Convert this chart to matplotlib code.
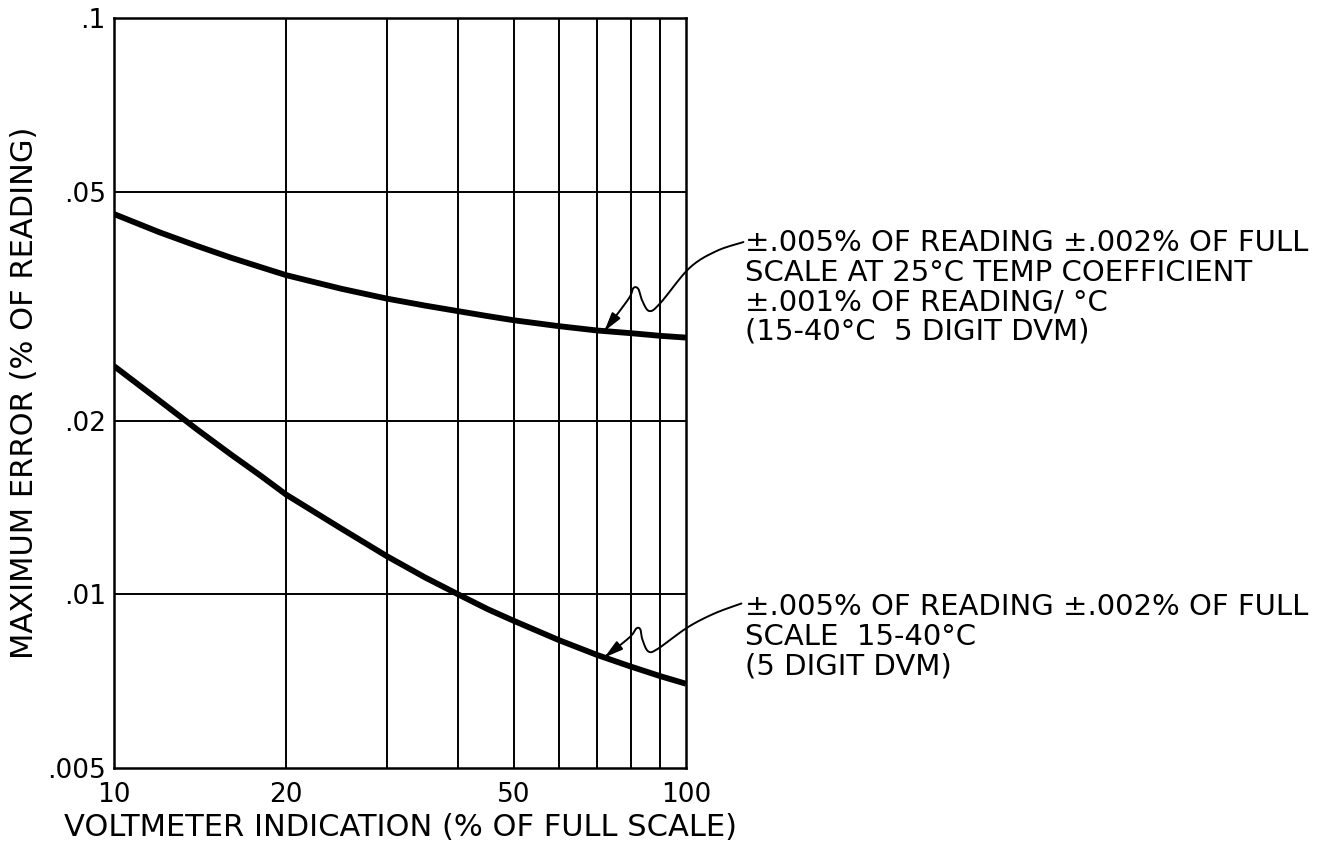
import numpy as np
import matplotlib
matplotlib.use("Agg")
import matplotlib.pyplot as plt
from matplotlib.path import Path
from matplotlib.patches import FancyArrowPatch
from matplotlib.transforms import IdentityTransform

# Values (log-log axes)
indication = [10, 12, 14, 16, 18, 20, 25, 30, 35, 40, 45, 50, 60, 70, 80, 90, 100]   # % of full scale
err_temp = [0.0457, 0.0425, 0.0402, 0.0384, 0.0370, 0.0358, 0.0339, 0.0326, 0.0317, 0.0310,
            0.0304, 0.0299, 0.0292, 0.0287, 0.0284, 0.0281, 0.0279]
err_basic = [0.0249, 0.0217, 0.0193, 0.0175, 0.0161, 0.0149, 0.0130, 0.01165, 0.0107, 0.0100,
             0.00943, 0.0090, 0.00833, 0.00785, 0.0075, 0.00722, 0.0070]

x_ticks = [10, 20, 50, 100]
x_ticklabels = ["10", "20", "50", "100"]
x_grid = [20, 30, 40, 50, 60, 70, 80, 90]
y_ticks = [0.005, 0.01, 0.02, 0.05, 0.1]
y_ticklabels = [".005", ".01", ".02", ".05", ".1"]

note_temp = ("\u00b1.005% OF READING \u00b1.002% OF FULL\n"
             "SCALE AT 25\u00b0C TEMP COEFFICIENT\n"
             "\u00b1.001% OF READING/ \u00b0C\n"
             "(15-40\u00b0C  5 DIGIT DVM)")
note_basic = ("\u00b1.005% OF READING \u00b1.002% OF FULL\n"
              "SCALE  15-40\u00b0C\n"
              "(5 DIGIT DVM)")
arrow_x = 72  # where the leader arrows touch the curves

plt.rcParams['font.family'] = ['DejaVu Sans']
FS_TICK = 19
FS_LABEL = 22
FS_NOTE = 21

fig = plt.figure(figsize=(13.32, 8.43), dpi=100)
ax = fig.add_axes([114 / 1332, 75 / 843, 572 / 1332, 750 / 843])

ax.plot(indication, err_temp, color='black', lw=4.2, solid_capstyle='butt',
        solid_joinstyle='round')
ax.plot(indication, err_basic, color='black', lw=4.2, solid_capstyle='butt',
        solid_joinstyle='round')

ax.set_xscale('log')
ax.set_yscale('log')
ax.set_xlim(10, 100)
ax.set_ylim(0.005, 0.1)

ax.xaxis.set_minor_locator(matplotlib.ticker.NullLocator())
ax.yaxis.set_minor_locator(matplotlib.ticker.NullLocator())
ax.set_xticks(x_ticks)
ax.set_xticklabels(x_ticklabels, fontsize=FS_TICK)
ax.set_yticks(y_ticks)
ax.set_yticklabels(y_ticklabels, fontsize=FS_TICK)
ax.tick_params(axis='y', length=0, pad=6)
ax.tick_params(axis='x', length=0, pad=10)

for gx in x_grid:
    ax.axvline(gx, color='black', lw=1.4, zorder=1)
for gy in y_ticks[1:-1]:
    ax.axhline(gy, color='black', lw=1.4, zorder=1)
for s in ax.spines.values():
    s.set_linewidth(1.8)

ax.set_xlabel("VOLTMETER INDICATION (% OF FULL SCALE)", fontsize=FS_LABEL, labelpad=4)
ax.set_ylabel("MAXIMUM ERROR (% OF READING)", fontsize=FS_LABEL, labelpad=6)


def catmull(pts, n=20):
    pts = np.asarray(pts, float)
    p = np.vstack([pts[0], pts, pts[-1]])
    out = []
    for i in range(1, len(p) - 2):
        p0, p1, p2, p3 = p[i - 1], p[i], p[i + 1], p[i + 2]
        for t in np.linspace(0, 1, n, endpoint=False):
            out.append(0.5 * ((2 * p1) + (-p0 + p2) * t
                              + (2 * p0 - 5 * p1 + 4 * p2 - p3) * t ** 2
                              + (-p0 + 3 * p1 - 3 * p2 + p3) * t ** 3))
    out.append(pts[-1])
    return np.array(out)


def leader(series, offsets):
    ly = 10 ** np.interp(np.log10(arrow_x), np.log10(indication), np.log10(series))
    tip = ax.transData.transform((arrow_x, ly))
    verts = catmull(tip + np.array(offsets, float))
    arr = FancyArrowPatch(path=Path(verts), arrowstyle='-|>,head_length=0.8,head_width=0.22',
                          mutation_scale=14, color='black', lw=1.4,
                          transform=IdentityTransform(), zorder=5, clip_on=False)
    fig.add_artist(arr)


fig.canvas.draw()
leader(err_temp, [(139, 89), (112, 80), (85, 63), (56, 28), (45, 20), (38, 30), (34, 42),
                  (29, 43), (24, 32), (0, 0)])
leader(err_basic, [(137, 54), (110, 44), (83, 30), (54, 9), (44, 6), (38, 18), (36, 28),
                   (32, 29), (25, 20), (0, 0)])

fig.text(745 / 1332, 1 - 229 / 843, note_temp, fontsize=FS_NOTE, ha='left', va='top',
         linespacing=1.07)
fig.text(745 / 1332, 1 - 593 / 843, note_basic, fontsize=FS_NOTE, ha='left', va='top',
         linespacing=1.07)

fig.savefig("out.png", dpi=100)
